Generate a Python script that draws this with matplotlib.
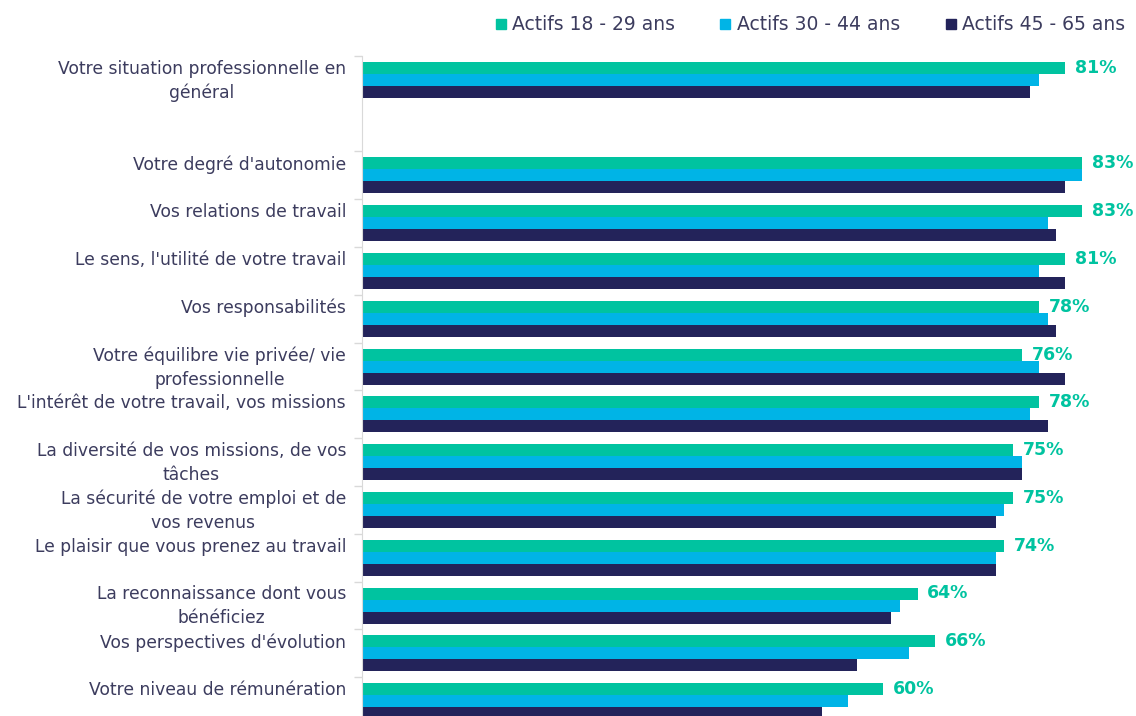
import matplotlib
matplotlib.use("Agg")
import matplotlib.pyplot as plt
from matplotlib.lines import Line2D

categories = [
    "Votre situation professionnelle en\ngénéral",
    "Votre degré d'autonomie",
    "Vos relations de travail",
    "Le sens, l'utilité de votre travail",
    "Vos responsabilités",
    "Votre équilibre vie privée/ vie\nprofessionnelle",
    "L'intérêt de votre travail, vos missions",
    "La diversité de vos missions, de vos\ntâches",
    "La sécurité de votre emploi et de\nvos revenus",
    "Le plaisir que vous prenez au travail",
    "La reconnaissance dont vous\nbénéficiez",
    "Vos perspectives d'évolution",
    "Votre niveau de rémunération",
]
# slot positions (an empty slot after the first category)
slots = [0, 2, 3, 4, 5, 6, 7, 8, 9, 10, 11, 12, 13]

series_names = ["Actifs 18 - 29 ans", "Actifs 30 - 44 ans", "Actifs 45 - 65 ans"]
actifs_18_29 = [81, 83, 83, 81, 78, 76, 78, 75, 75, 74, 64, 66, 60]
actifs_30_44 = [78, 83, 79, 78, 79, 78, 77, 76, 74, 73, 62, 63, 56]
actifs_45_65 = [77, 81, 80, 81, 80, 81, 79, 76, 73, 73, 61, 57, 53]

colors = ["#00C3A0", "#00B4E6", "#23235A"]
text_color = "#3C3C5E"

W, H = 1136, 716
fig = plt.figure(figsize=(W / 100, H / 100), dpi=100)

# axes in pixel coords: left 362, right 1136, top 50, bottom 716
ax = fig.add_axes([362 / W, 0, (W - 362) / W, (H - 50) / H])
slot_px = 47.8
first_center = 79.7

bh = 12 / slot_px
all_series = [actifs_18_29, actifs_30_44, actifs_45_65]
for i, (vals, col, name) in enumerate(zip(all_series, colors, series_names)):
    ys = [s + (i - 1) * bh for s in slots]
    ax.barh(ys, vals, height=bh, color=col, label=name, edgecolor="none")

for s, v in zip(slots, actifs_18_29):
    ax.annotate(f"{v}%", xy=(v, s - bh), xytext=(7, 0), textcoords="offset points",
                va="center", ha="left", fontsize=12.5, fontweight="bold", color=colors[0])

for s, lab in zip(slots, categories):
    ax.annotate(lab, xy=(0, s - 1.5 * bh), xytext=(-11.5, 1.5), textcoords="offset points",
                ha="right", va="top", fontsize=12.3, color=text_color,
                multialignment="center", linespacing=1.42, annotation_clip=False)

for sp in ["top", "right", "bottom"]:
    ax.spines[sp].set_visible(False)
ax.spines["left"].set_color("#D9D9D9")
ax.set_xticks([])
ticks = [s - 0.5 for s in slots]
ax.set_yticks(ticks)
ax.set_yticklabels([])
ax.tick_params(axis="y", length=6, color="#D9D9D9", width=1)

# limits set after ticks so they are not expanded
ax.set_ylim((H - first_center) / slot_px, (50 - first_center) / slot_px)
ax.set_xlim(0, (W - 362) / 8.68)
ax.spines["left"].set_bounds(-0.5, 14)

handles = [Line2D([0], [0], marker="s", linestyle="none", markersize=7.5,
                  markerfacecolor=c, markeredgecolor=c) for c in colors]
fig.legend(handles, series_names, loc="center", bbox_to_anchor=(809 / W, 1 - 25 / H),
           ncol=3, frameon=False, fontsize=13.5, handletextpad=0.2, columnspacing=2.3,
           handlelength=0.8, labelcolor=text_color)

fig.savefig("out.png", dpi=100)
